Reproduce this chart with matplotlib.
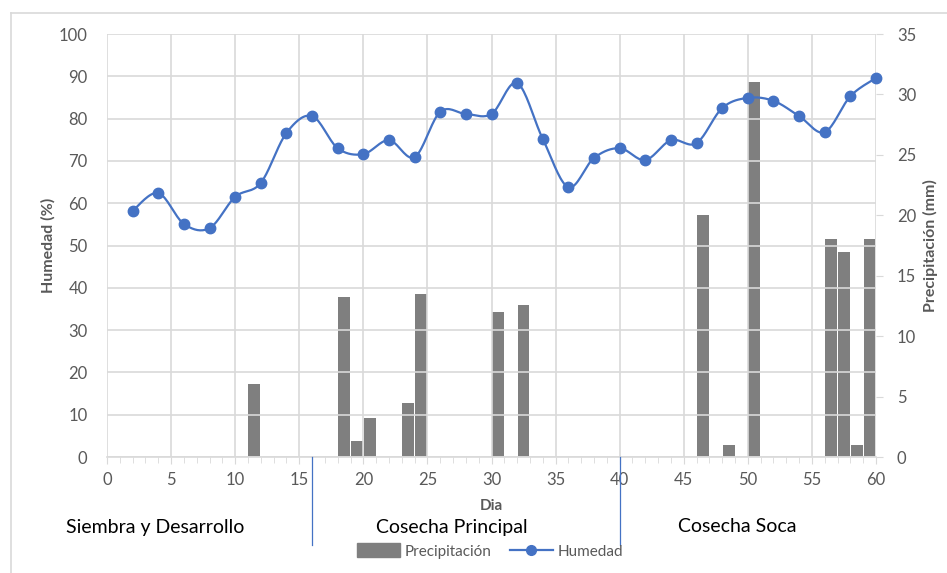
import matplotlib
matplotlib.use("Agg")
import numpy as np
import matplotlib.pyplot as plt
from matplotlib.lines import Line2D
from matplotlib.patches import Patch

plt.rcParams['font.family'] = ['Lato', 'DejaVu Sans']

# Humedad (%) cada 2 dias
dias_hum = [2, 4, 6, 8, 10, 12, 14, 16, 18, 20, 22, 24, 26, 28, 30,
            32, 34, 36, 38, 40, 42, 44, 46, 48, 50, 52, 54, 56, 58, 60]
humedad = [58.2, 62.4, 55.1, 54.1, 61.5, 64.8, 76.6, 80.6, 73.0, 71.6,
           74.9, 70.9, 81.6, 81.1, 81.1, 88.4, 75.2, 63.8, 70.7, 73.0,
           70.2, 74.9, 74.2, 82.5, 84.9, 84.2, 80.6, 76.8, 85.3, 89.6]

# Precipitacion (mm), dias con lluvia
dias_pp = [12, 19, 20, 21, 24, 25, 31, 33, 47, 49, 51, 57, 58, 59, 60]
precip = [6.0, 13.2, 1.3, 3.2, 4.5, 13.5, 12.0, 12.6, 20.0, 1.0, 31.0,
          18.0, 17.0, 1.0, 18.0]

etapas = ["Siembra y Desarrollo", "Cosecha Principal", "Cosecha Soca"]
limites = [16, 40]

gris = '#595959'
azul = '#4472C4'
barra = '#7F7F7F'


def suavizar(x, y, n=20):
    # curva suave tipo Excel (Bezier con puntos de control catmull-rom)
    x = np.asarray(x, float)
    y = np.asarray(y, float)
    px = np.concatenate([[x[0]], x, [x[-1]]])
    py = np.concatenate([[y[0]], y, [y[-1]]])
    xs, ys = [], []
    t = np.linspace(0, 1, n)
    for i in range(1, len(px) - 2):
        p0 = np.array([px[i], py[i]])
        p3 = np.array([px[i + 1], py[i + 1]])
        c1 = p0 + (p3 - np.array([px[i - 1], py[i - 1]])) / 6
        c2 = p3 - (np.array([px[i + 2], py[i + 2]]) - p0) / 6
        b = ((1 - t) ** 3)[:, None] * p0 + (3 * (1 - t) ** 2 * t)[:, None] * c1 \
            + (3 * (1 - t) * t ** 2)[:, None] * c2 + (t ** 3)[:, None] * p3
        xs.extend(b[:, 0])
        ys.extend(b[:, 1])
    return xs, ys


fig = plt.figure(figsize=(9.47, 5.73), dpi=100)
W, H = 947, 573
ax = fig.add_axes([107 / W, 1 - 457 / H, (876 - 107) / W, (457 - 34) / H])
ax2 = ax.twinx()

# barras en el eje secundario
ax2.bar([d - 0.5 for d in dias_pp], precip, width=0.92, color=barra, zorder=2)
ax2.set_ylim(0, 35)
ax2.set_yticks(range(0, 36, 5))

ax.set_zorder(ax2.get_zorder() + 1)
ax.patch.set_visible(False)
sx, sy = suavizar(dias_hum, humedad)
ax.plot(sx, sy, color=azul, linewidth=1.6, zorder=3, clip_on=False)
ax.plot(dias_hum, humedad, color=azul, linestyle='none', marker='o',
        markersize=7.5, zorder=4, clip_on=False)
ax.set_xlim(0, 60)
ax.set_ylim(0, 100)
ax.set_yticks(range(0, 101, 10))
ax.set_xticks(range(0, 61, 5))
ax.set_xticks(range(0, 61, 1), minor=True)
ax.grid(True, color='#D9D9D9', linewidth=1.2, zorder=0)
ax.set_axisbelow(True)

for a in (ax, ax2):
    for s in a.spines.values():
        s.set_visible(False)
ax.spines['bottom'].set_visible(True)
ax.spines['bottom'].set_color('#D9D9D9')
ax.spines['bottom'].set_linewidth(1.2)

ax.tick_params(axis='y', length=0, labelsize=12, labelcolor=gris, pad=14)
ax.tick_params(axis='x', which='both', color='#D9D9D9', labelsize=12,
               labelcolor=gris, pad=6)
ax.tick_params(axis='x', which='major', length=5)
ax.tick_params(axis='x', which='minor', length=4)
ax2.tick_params(axis='y', length=5, color='#D9D9D9', labelsize=12,
                labelcolor=gris, pad=10)

ax.set_ylabel('Humedad (%)', fontsize=11.5, fontweight='bold', color=gris,
              labelpad=2)
ax2.set_ylabel('Precipitación (mm)', fontsize=11.5, fontweight='bold',
               color=gris, labelpad=5)
ax.set_xlabel('Dia', fontsize=11, fontweight='bold', color=gris, labelpad=8)

# lineas de etapas y textos
for lim in limites:
    x = ax.transData.transform((lim, 0))[0] / W
    fig.add_artist(Line2D([x, x], [1 - 457 / H, 1 - 545 / H], color=azul,
                          linewidth=0.9))
fig.text(155 / W, 1 - 527 / H, etapas[0], fontsize=14, ha='center',
         va='center', color='black')
fig.text(452 / W, 1 - 527 / H, etapas[1], fontsize=14, ha='center',
         va='center', color='black')
fig.text(737 / W, 1 - 527 / H, etapas[2], fontsize=14, ha='center',
         va='center', color='black')

# marco del grafico
fig.add_artist(Line2D([11 / W, 1], [1 - 13 / H, 1 - 13 / H],
                      color='#D9D9D9', linewidth=1.2))
fig.add_artist(Line2D([11 / W, 11 / W], [1 - 13 / H, 0],
                      color='#D9D9D9', linewidth=1.2))

handles = [Patch(color=barra, label='Precipitación'),
           Line2D([], [], color=azul, marker='o', markersize=7,
                  linewidth=1.6, label='Humedad')]
leg = fig.legend(handles=handles, loc='center', ncol=2,
                 bbox_to_anchor=(490 / W, 1 - 551 / H), frameon=False,
                 fontsize=11, handlelength=2.8, handleheight=1.0,
                 columnspacing=1.2, handletextpad=0.3)
for t in leg.get_texts():
    t.set_color(gris)

fig.savefig('out.png', dpi=100)
